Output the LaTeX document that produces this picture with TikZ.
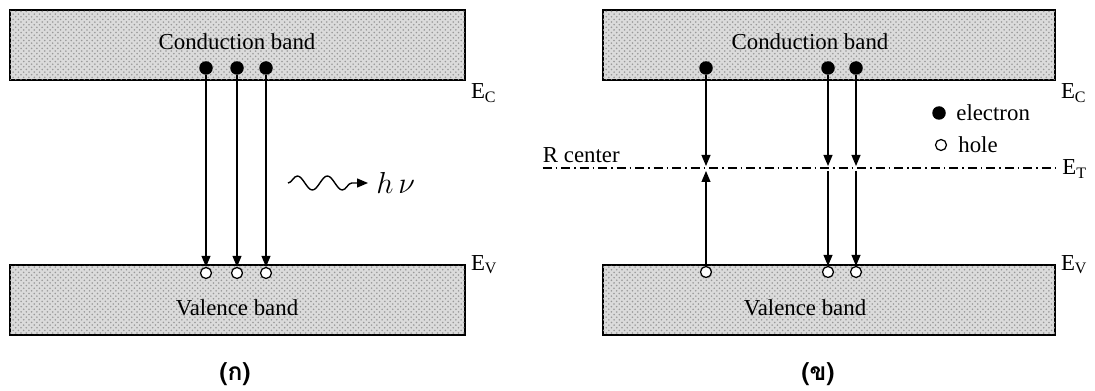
\documentclass[tikz,border=0pt]{standalone}
\usepackage{fontspec}
\setmainfont{Liberation Serif}
\newfontfamily\thaifont[Script=Thai]{Loma}
\usepackage{tikz}
\usetikzlibrary{arrows.meta, positioning, decorations.pathmorphing, patterns}
\tikzset{
	bandbox/.style={draw, line width=0.8pt, fill=black!14, postaction={pattern=crosshatch dots, pattern color=black!40}, minimum height=1.4cm, inner sep=0pt},
	elecdot/.style={circle, fill=black, inner sep=0pt, minimum size=0.27cm},
	holedot/.style={circle, draw, line width=0.7pt, fill=white, inner sep=0pt, minimum size=0.22cm},
	transarr/.style={-{Triangle[length=2.2mm, width=1.8mm]}, line width=0.6pt},
	bandtext/.style={font=\fontsize{13}{15}\selectfont, inner sep=0pt},
	leveltext/.style={font=\fontsize{13}{15}\selectfont, inner sep=0pt},
	trapline/.style={line width=0.6pt, dash pattern=on 0.18cm off 0.08cm on 0.03cm off 0.08cm},
	captext/.style={font=\thaifont\bfseries\fontsize{14}{16}\selectfont},
}

\begin{document}
\begin{tikzpicture}[x=0.02cm, y=-0.02cm]
	\useasboundingbox (0,0) rectangle (1095,391);
	% (a) direct recombination
	\node[bandbox, minimum width=9.1cm] (cbA) at (237.5,45) {};
	\node[bandbox, minimum width=9.1cm] (vbA) at (237.5,300) {};
	\node[bandtext, anchor=base] (cbtA) at (237,50) {Conduction band};
	\node[bandtext, anchor=base] (vbtA) at (237,316) {Valence band};
	\node[leveltext, anchor=north west] (ecA) at ([shift={(0.1cm,-0.06cm)}]cbA.south east) {E\textsubscript{C}};
	\node[leveltext, anchor=west] (evA) at ([shift={(0.1cm,0)}]vbA.north east) {E\textsubscript{V}};
	\foreach \i/\x in {1/206, 2/237, 3/266} {
		\node[elecdot] (eA\i) at (\x,68) {};
		\node[holedot] (hA\i) at (\x,273) {};
		\draw[transarr] (eA\i) -- (hA\i);
	}
	\coordinate (wS) at (288,183);
	\coordinate (wE) at (368,183);
	\draw[line width=0.8pt, decorate, decoration={snake, amplitude=0.14cm, segment length=0.6cm, post length=0.32cm}, -{Triangle[length=2.2mm, width=1.8mm]}] (wS) -- (wE);
	\node[bandtext, anchor=west, font=\fontsize{16}{18}\selectfont] (hv) at (376,183) {$h\,\nu$};
	\node[captext] (capA) at (235,374) {(ก)};

	% (b) recombination through R centers
	\node[bandbox, minimum width=9.04cm] (cbB) at (829,45) {};
	\node[bandbox, minimum width=9.04cm] (vbB) at (829,300) {};
	\node[bandtext, anchor=base] (cbtB) at (810,50) {Conduction band};
	\node[bandtext, anchor=base] (vbtB) at (805,316) {Valence band};
	\node[leveltext, anchor=north west] (ecB) at ([shift={(0.1cm,-0.06cm)}]cbB.south east) {E\textsubscript{C}};
	\node[leveltext, anchor=west] (evB) at ([shift={(0.1cm,0)}]vbB.north east) {E\textsubscript{V}};
	\node[elecdot] (eL) at (939,113) {};
	\node[bandtext, anchor=west] (eLt) at (956,113) {electron};
	\node[holedot] (hL) at (941,145) {};
	\node[bandtext, anchor=west] (hLt) at (958,145) {hole};
	\node[bandtext, anchor=base east] (rc) at (620,163) {R center};
	\coordinate (tS) at (rc.west |- 0,168);
	\coordinate (tE) at (1058,168);
	\draw[trapline] (tS) -- (tE);
	\node[leveltext, anchor=west] (et) at (1062,169) {E\textsubscript{T}};
	\foreach \i/\x in {1/706, 2/828, 3/856} {
		\node[elecdot] (eB\i) at (\x,68) {};
		\node[holedot] (hB\i) at (\x,272) {};
		\coordinate (tu\i) at (\x,166);
		\coordinate (td\i) at (\x,171);
		\draw[transarr] (eB\i) -- (tu\i);
	}
	\draw[transarr] (hB1) -- (td1);
	\draw[transarr] (td2) -- (hB2);
	\draw[transarr] (td3) -- (hB3);
	\node[captext] (capB) at (818,374) {(ข)};
\end{tikzpicture}
\end{document}
